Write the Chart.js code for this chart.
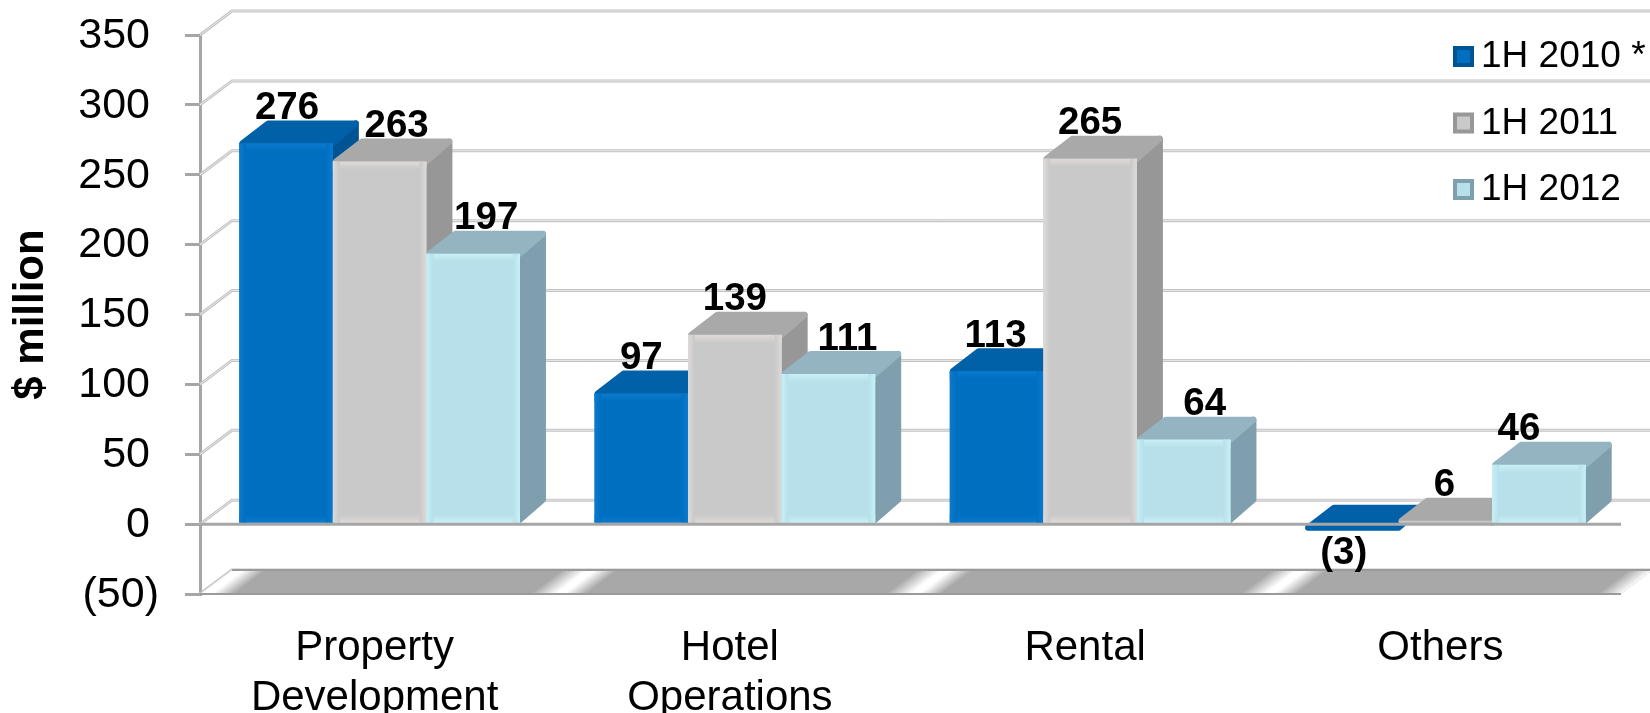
<!DOCTYPE html>
<html>
<head>
<meta charset="utf-8">
<style>
  html, body { margin: 0; padding: 0; background: #fff; }
  canvas { display: block; }
</style>
<script src="https://cdn.jsdelivr.net/npm/chart.js@4"></script>
</head>
<body>
<canvas id="chart" width="1650" height="713"></canvas>
<script>
const categories = [['Property', 'Development'], ['Hotel', 'Operations'], 'Rental', 'Others'];
const seriesNames = ['1H 2010 *', '1H 2011', '1H 2012'];
const values2010 = [276, 97, 113, -3];
const values2011 = [263, 139, 265, 6];
const values2012 = [197, 111, 64, 46];
const yTickLabels = ['(50)', '0', '50', '100', '150', '200', '250', '300', '350'];

// hand placed in the original, so each label has its own sideways nudge
const labelNudge = [[1, 0, -1, -8], [17, 0, 0, -1], [13, 19, 21, -20]];

const FONT = '"Liberation Sans", Arial, sans-serif';
const DEPTH_X = 26, DEPTH_Y = 23;
const WALL_X = 32, WALL_Y = 24;
const BAR_SHIFT = 2;
const palette = [
  { front: '#006fbf', rim: '#0a7ad0', side: '#005494', top: '#0060a8' },
  { front: '#c9c9c9', rim: '#dedad8', side: '#979797', top: '#a9a9a9' },
  { front: '#b8e0ea', rim: '#c8f0f7', side: '#7f9fae', top: '#94b4c1' },
];

function poly(ctx, pts, fill, round) {
  ctx.beginPath();
  pts.forEach((p, i) => (i ? ctx.lineTo(p[0], p[1]) : ctx.moveTo(p[0], p[1])));
  ctx.closePath();
  ctx.fillStyle = fill;
  ctx.fill();
  if (round) {
    ctx.strokeStyle = fill;
    ctx.lineWidth = round;
    ctx.lineJoin = 'round';
    ctx.stroke();
  }
}

function drawWalls(chart) {
  const { ctx, chartArea: a, scales: { y } } = chart;
  const right = a.right;
  y.ticks.forEach((t, i) => {
    const py = y.getPixelForTick(i);
    [['#c3c3c3', 3], ['#e8e8e8', 1]].forEach(([color, w]) => {
      ctx.beginPath();
      ctx.moveTo(a.left, py);
      ctx.lineTo(a.left + WALL_X, py - WALL_Y);
      ctx.lineTo(right + WALL_X, py - WALL_Y);
      ctx.strokeStyle = color;
      ctx.lineWidth = w;
      ctx.stroke();
    });
  });

  // floor slab at the bottom of the scale, with the glossy streaks
  const fy = a.bottom;
  const slab = [[a.left, fy], [a.left + WALL_X, fy - WALL_Y], [right + WALL_X, fy - WALL_Y], [right, fy]];
  poly(ctx, slab, '#a8a8a8');
  ctx.save();
  ctx.beginPath();
  slab.forEach((p, i) => (i ? ctx.lineTo(p[0], p[1]) : ctx.moveTo(p[0], p[1])));
  ctx.closePath();
  ctx.clip();
  const bw = 56;
  [178, 530, 885, 1240, 1597].forEach(sx => {
    const g = ctx.createLinearGradient(sx, fy, sx + bw * 0.36, fy + bw * 0.48);
    g.addColorStop(0, 'rgba(255,255,255,0)');
    g.addColorStop(0.45, 'rgba(255,255,255,1)');
    g.addColorStop(0.6, 'rgba(255,255,255,1)');
    g.addColorStop(1, 'rgba(255,255,255,0)');
    poly(ctx, [[sx, fy], [sx + WALL_X, fy - WALL_Y], [sx + WALL_X + bw, fy - WALL_Y], [sx + bw, fy]], g);
  });
  ctx.restore();
  ctx.beginPath();
  ctx.moveTo(a.left + WALL_X, fy - WALL_Y);
  ctx.lineTo(right + WALL_X, fy - WALL_Y);
  ctx.moveTo(a.left, fy);
  ctx.lineTo(right, fy);
  ctx.strokeStyle = '#9a9a9a';
  ctx.lineWidth = 2;
  ctx.stroke();
}

function drawBlock(ctx, bar, value, c) {
  const w = bar.width, x = bar.x - w / 2 + BAR_SHIFT, base = bar.base;
  const frontTop = value >= 0 ? bar.y + 5 : base + 2;
  const frontBottom = value >= 0 ? base : bar.y;
  const backTop = frontTop - DEPTH_Y;
  // the side has no depth to show on the flat negative bar
  if (value >= 0) {
    poly(ctx, [[x + w, frontTop + 2], [x + w + DEPTH_X - 3, backTop + 3], [x + w + DEPTH_X - 3, frontBottom - DEPTH_Y], [x + w, frontBottom - 3]], c.side, 6);
  }
  poly(ctx, [[x + 3, frontTop], [x + DEPTH_X + 3, backTop + 3], [x + w + DEPTH_X - 3, backTop + 3], [x + w, frontTop]], c.top, 6);
  const h = frontBottom - frontTop;
  ctx.fillStyle = c.front;
  ctx.fillRect(x, frontTop, w, h);
  if (h > 16) {
    let g = ctx.createLinearGradient(0, frontTop, 0, frontTop + 8);
    g.addColorStop(0, c.rim);
    g.addColorStop(1, c.front);
    ctx.fillStyle = g;
    ctx.fillRect(x, frontTop, w, 8);
    g = ctx.createLinearGradient(0, frontBottom - 8, 0, frontBottom);
    g.addColorStop(0, c.front);
    g.addColorStop(1, c.rim);
    ctx.fillStyle = g;
    ctx.fillRect(x, frontBottom - 8, w, 8);
    g = ctx.createLinearGradient(x, 0, x + w, 0);
    g.addColorStop(0, c.rim);
    g.addColorStop(0.07, c.front);
    ctx.fillStyle = g;
    ctx.fillRect(x, frontTop, 7, h);
    g = ctx.createLinearGradient(x + w - 7, 0, x + w, 0);
    g.addColorStop(0, c.front);
    g.addColorStop(1, c.rim);
    ctx.fillStyle = g;
    ctx.fillRect(x + w - 7, frontTop, 7, h);
  }
}

const scene3d = {
  id: 'scene3d',
  beforeDatasetsDraw(chart) {
    const { ctx, chartArea: a, scales: { y } } = chart;
    ctx.save();
    drawWalls(chart);
    chart.data.datasets.forEach((ds, i) => {
      chart.getDatasetMeta(i).data.forEach((bar, j) => drawBlock(ctx, bar, ds.data[j], palette[i]));
    });
    ctx.beginPath();
    ctx.moveTo(a.left, y.getPixelForValue(0));
    ctx.lineTo(a.right, y.getPixelForValue(0));
    ctx.strokeStyle = '#a6a6a6';
    ctx.lineWidth = 3;
    ctx.stroke();

    ctx.fillStyle = '#000';
    ctx.font = `bold 38.5px ${FONT}`;
    ctx.textAlign = 'center';
    ctx.textBaseline = 'middle';
    chart.data.datasets.forEach((ds, i) => {
      chart.getDatasetMeta(i).data.forEach((bar, j) => {
        const v = ds.data[j];
        const text = v < 0 ? `(${-v})` : String(v);
        ctx.fillText(text, bar.x + BAR_SHIFT + labelNudge[i][j], bar.y + (v < 0 ? 25 : -30));
      });
    });

    // y labels done here because the bracket of (50) hangs past the digits above it
    ctx.font = `43px ${FONT}`;
    ctx.textAlign = 'right';
    y.ticks.forEach((t, i) => {
      ctx.fillText(t.label, t.value < 0 ? 159 : 150, y.getPixelForTick(i) + 1);
    });

    // legend
    ctx.font = `37px ${FONT}`;
    ctx.textAlign = 'left';
    chart.data.datasets.forEach((ds, i) => {
      const ly = 56 + i * 66.5;
      const c = palette[i];
      ctx.fillStyle = c.side;
      ctx.fillRect(1453, ly - 10, 21, 21);
      ctx.fillStyle = c.front;
      ctx.fillRect(1457, ly - 6, 13, 13);
      ctx.fillStyle = '#000';
      ctx.fillText(ds.label, 1481, ly + 1);
    });
    ctx.restore();
    return false;
  },
};

new Chart(document.getElementById('chart'), {
  type: 'bar',
  data: {
    labels: categories,
    datasets: [values2010, values2011, values2012].map((d, i) => ({
      label: seriesNames[i],
      data: d,
      backgroundColor: palette[i].front,
    })),
  },
  plugins: [scene3d],
  options: {
    responsive: false,
    animation: false,
    layout: { padding: { top: 35, right: 29, left: 0, bottom: 0 } },
    categoryPercentage: 0.79,
    barPercentage: 1,
    plugins: { legend: { display: false }, tooltip: { enabled: false } },
    scales: {
      x: {
        grid: { display: false },
        border: { display: false },
        ticks: {
          color: '#000',
          font: { family: FONT, size: 42 },
          maxRotation: 0,
          autoSkip: false,
          padding: 21,
          labelOffset: -3,
        },
        afterFit(s) { s.height = 119; },
      },
      y: {
        min: -50,
        max: 350,
        title: {
          display: true,
          text: '$ million',
          color: '#000',
          font: { family: FONT, size: 42, weight: 'bold' },
          padding: { top: 6, bottom: 0 },
        },
        grid: { drawOnChartArea: false, tickLength: 15, color: '#a6a6a6', lineWidth: 3 },
        border: { display: true, color: '#a6a6a6', width: 3 },
        ticks: {
          display: false,
          stepSize: 50,
          callback: (v, i) => yTickLabels[i],
        },
        afterFit(s) { s.width = 200; s.paddingTop = 0; s.paddingBottom = 0; },
      },
    },
  },
});
</script>
</body>
</html>
